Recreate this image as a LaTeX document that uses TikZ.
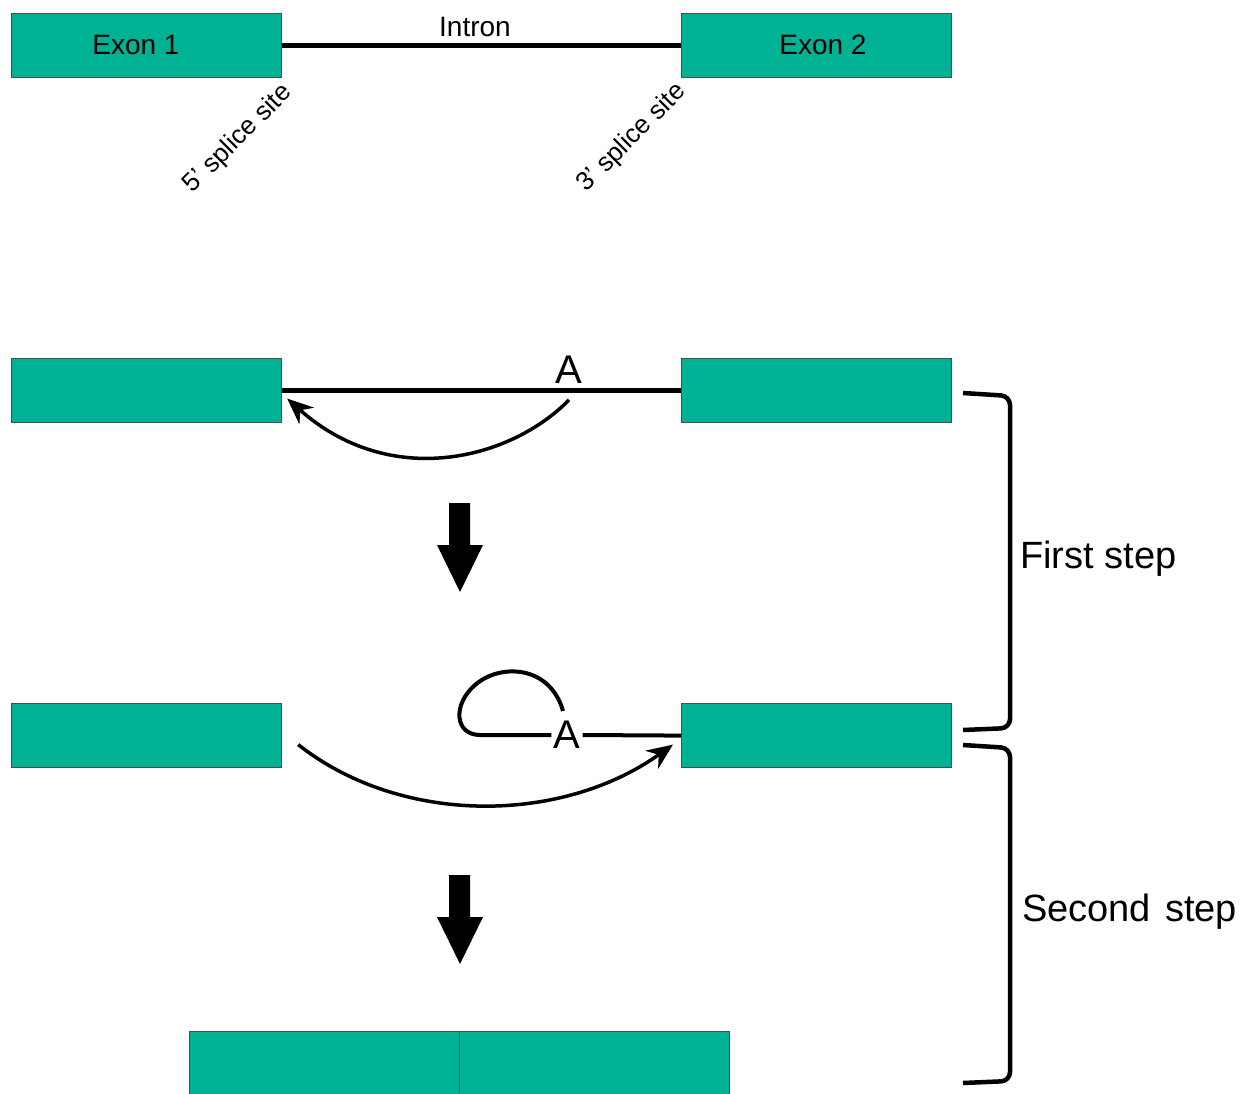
\documentclass[tikz,border=0pt]{standalone}
\usepackage{fontspec}
\setmainfont{Liberation Sans}
\usetikzlibrary{arrows.meta}
\definecolor{exongreen}{RGB}{0,178,148}

\begin{document}
\begin{tikzpicture}[x=1pt,y=-1pt,
	exon node/.style={rectangle,draw=black!70,line width=1.2pt,fill=exongreen,
		minimum width=270pt,minimum height=64pt,inner sep=0pt,anchor=north west},
	name node/.style={inner sep=0pt,font=\fontsize{28}{32}\selectfont},
	site node/.style={rotate=45,inner sep=0pt,font=\fontsize{26}{30}\selectfont},
	branch node/.style={inner sep=2pt,font=\fontsize{40}{44}\selectfont},
	step node/.style={anchor=west,inner sep=0pt,font=\fontsize{38}{42}\selectfont},
	rna/.style={line width=4.5pt},
	swing/.style={-{Stealth[length=26pt,width=22pt]},line width=3.5pt},
	bracket/.style={line width=4.5pt,rounded corners=9pt}]

	\useasboundingbox (0,0) rectangle (1248,1094);

	% pre-mRNA
	\node[exon node] (e1) at (11,13) {};
	\node[exon node] (e2) at (681,13) {};
	\node[name node] (e1t) at (136,45) {Exon 1};
	\node[name node] (e2t) at (823,45) {Exon 2};
	\node[name node] (intron) at (475,27) {Intron};
	\node[site node] (s5) at (238,139) {5' splice site};
	\node[site node] (s3) at (632,138) {3' splice site};
	\draw[rna] (e1.east) -- (e2.west);

	% first step
	\node[exon node] (f1) at (11,358) {};
	\node[exon node] (f2) at (681,358) {};
	\node[branch node] (a1) at (569,370) {A};
	\draw[rna] (f1.east) -- (f2.west);
	\draw[swing] ([yshift=-14pt]a1.south) .. controls (510,460) and (390,490) .. ([xshift=5pt,yshift=-8pt]f1.east);

	% lariat
	\node[exon node] (g1) at (11,703) {};
	\node[exon node] (g2) at (681,703) {};
	\node[branch node] (a2) at (567,735) {A};
	\draw[rna,line width=4pt] (a2.east) -- (g2.west);
	\draw[rna,line width=4pt] (a2.west) -- (480,735) .. controls (455,735) and (452,705) .. (475,685)
		.. controls (500,663) and (550,665) .. (563,711);
	\draw[swing] ([xshift=16pt,yshift=-9pt]g1.east) .. controls (400,825) and (560,825) .. ([xshift=-8pt,yshift=-9pt]g2.west);

	% spliced exons
	\node[exon node] (h1) at (189,1031) {};
	\node[exon node] (h2) at (459,1031) {};

	% big arrows
	\foreach \y in {503,875}
		\fill (449,\y) -- (470,\y) -- (470,\y+42) -- (483,\y+42) -- (460,\y+89) -- (437,\y+42) -- (449,\y+42) -- cycle;

	% brackets
	\coordinate (b1t) at (963,393);
	\coordinate (b1b) at (963,730);
	\coordinate (b2t) at (963,745);
	\coordinate (b2b) at (963,1083);
	\draw[bracket] (b1t) -- (1010,396) -- (1010,728) -- (b1b);
	\draw[bracket] (b2t) -- (1010,748) -- (1010,1081) -- (b2b);
	\node[step node] (first) at (1020,559) {First step};
	\node[step node] (second) at (1022,912) {Second\hspace{14pt}step};
\end{tikzpicture}
\end{document}
